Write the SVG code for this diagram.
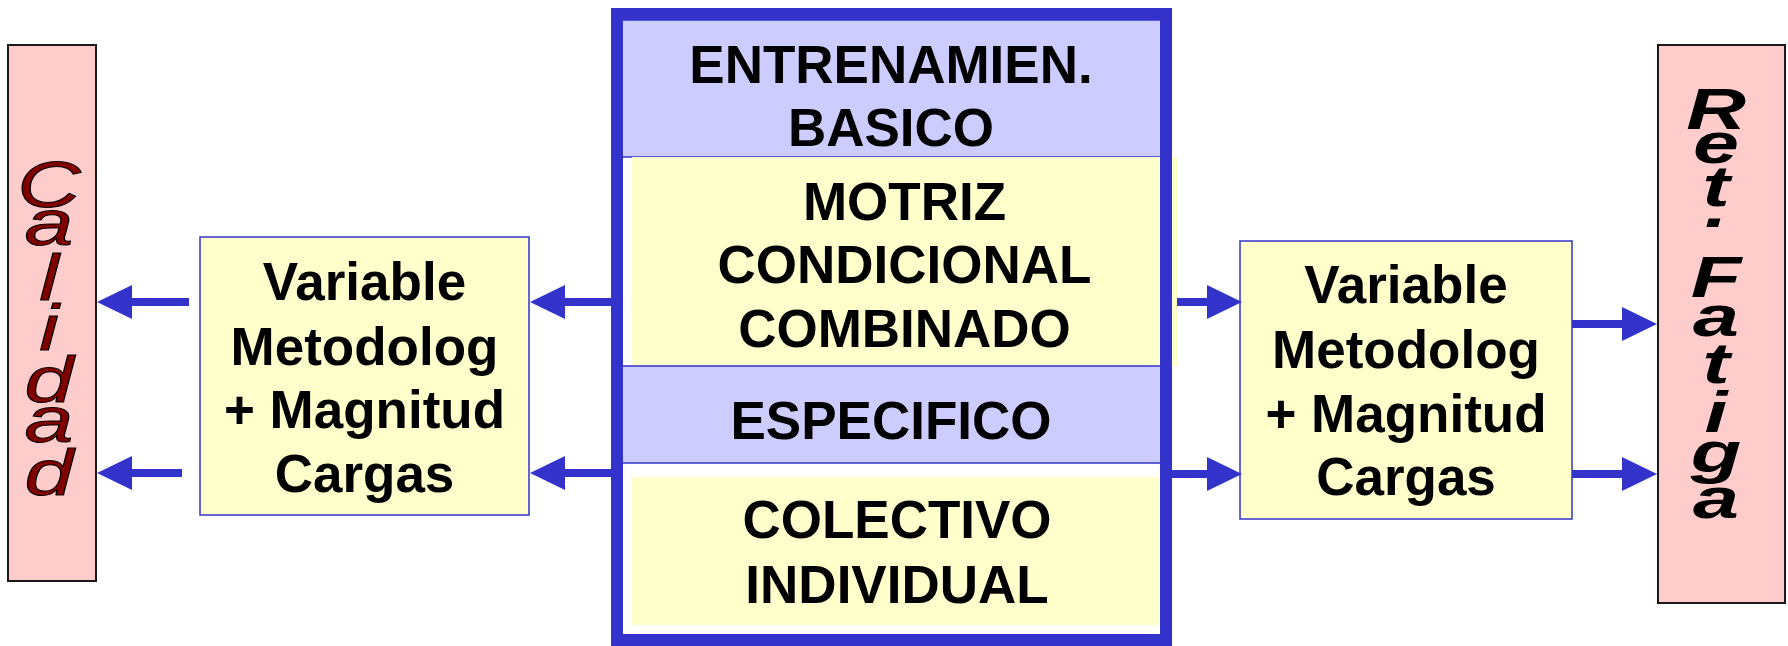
<svg xmlns="http://www.w3.org/2000/svg" width="1788" height="646" viewBox="0 0 1788 646">
<style>
.bg{fill:#ffffff}
.side{fill:#FFCCCC;stroke:#1a1a1a;stroke-width:2}
.ybox{fill:#FFFFCC;stroke:#3333CC;stroke-width:1.5}
.yband{fill:#FFFFCC}
.lav{fill:#CCCCFF;stroke:#3333CC;stroke-width:1.5}
.frame{fill:none;stroke:#3333CC;stroke-width:12}
.t{font-family:"Liberation Sans",Arial,sans-serif;font-weight:bold;font-size:53px;fill:#000;text-anchor:middle}
.cal{font-family:"Liberation Sans",Arial,sans-serif;font-style:italic;font-size:65px;fill:#800000;stroke:#000;stroke-width:1;text-anchor:middle}
.ret{font-family:"Liberation Sans",Arial,sans-serif;font-style:italic;font-weight:bold;font-size:57px;fill:#000;text-anchor:middle}
.conn{stroke:#3333CC;stroke-width:8;fill:none;marker-end:url(#ah)}
</style>
<defs>
<marker id="ah" markerUnits="userSpaceOnUse" markerWidth="36" markerHeight="36" refX="0" refY="17" orient="auto">
<path d="M0,0 L35,17 L0,34 Z" fill="#3333CC"/>
</marker>
</defs>
<rect class="bg" x="0" y="0" width="1788" height="646"/>

<g id="calidad">
<rect class="side" x="8" y="45" width="88" height="536"/>
<text class="cal" transform="translate(49,0) scale(1.35,1)"><tspan x="0" y="207">C</tspan><tspan x="0" y="245">a</tspan><tspan x="0" y="300">l</tspan><tspan x="0" y="350">i</tspan><tspan x="0" y="402">d</tspan><tspan x="0" y="442">a</tspan><tspan x="0" y="495">d</tspan></text>
</g>

<g id="left-box">
<rect class="ybox" x="200" y="237" width="329" height="278"/>
<text class="t"><tspan x="364.5" y="300">Variable</tspan><tspan x="364.5" y="365">Metodolog</tspan><tspan x="364.5" y="428">+ Magnitud</tspan><tspan x="364.5" y="492">Cargas</tspan></text>
</g>

<g id="center-box">
<rect class="lav" x="622" y="20" width="539" height="137"/>
<rect class="yband" x="632" y="157" width="545" height="209"/>
<rect class="lav" x="622" y="366" width="539" height="97"/>
<rect class="yband" x="632" y="477" width="530" height="148"/>
<rect class="frame" x="617" y="14" width="549" height="626"/>
<text class="t"><tspan x="891" y="83">ENTRENAMIEN.</tspan><tspan x="891" y="146">BASICO</tspan></text>
<text class="t"><tspan x="904.5" y="220">MOTRIZ</tspan><tspan x="904.5" y="283">CONDICIONAL</tspan><tspan x="904.5" y="347">COMBINADO</tspan></text>
<text class="t"><tspan x="891" y="439">ESPECIFICO</tspan></text>
<text class="t"><tspan x="897" y="538">COLECTIVO</tspan><tspan x="897" y="603">INDIVIDUAL</tspan></text>
</g>

<g id="right-box">
<rect class="ybox" x="1240" y="241" width="332" height="278"/>
<text class="t"><tspan x="1406" y="303">Variable</tspan><tspan x="1406" y="368">Metodolog</tspan><tspan x="1406" y="432">+ Magnitud</tspan><tspan x="1406" y="495">Cargas</tspan></text>
</g>

<g id="ret-fatiga">
<rect class="side" x="1658" y="45" width="127" height="558"/>
<text class="ret" transform="translate(1716,0) scale(1.45,1)"><tspan x="0" y="129">R</tspan><tspan x="0" y="163">e</tspan><tspan x="0" y="206">t</tspan><tspan x="0" y="227">.</tspan><tspan x="0" y="297">F</tspan><tspan x="0" y="336">a</tspan><tspan x="0" y="383">t</tspan><tspan x="0" y="432">i</tspan><tspan x="0" y="472">g</tspan><tspan x="0" y="518">a</tspan></text>
</g>

<g id="connectors">
<line class="conn" x1="611" y1="302" x2="565" y2="302"/>
<line class="conn" x1="611" y1="473" x2="565" y2="473"/>
<line class="conn" x1="189" y1="302" x2="132" y2="302"/>
<line class="conn" x1="182" y1="473" x2="132" y2="473"/>
<line class="conn" x1="1177" y1="302" x2="1207" y2="302"/>
<line class="conn" x1="1166" y1="474" x2="1207" y2="474"/>
<line class="conn" x1="1572" y1="324" x2="1622" y2="324"/>
<line class="conn" x1="1572" y1="474" x2="1622" y2="474"/>
</g>
</svg>
